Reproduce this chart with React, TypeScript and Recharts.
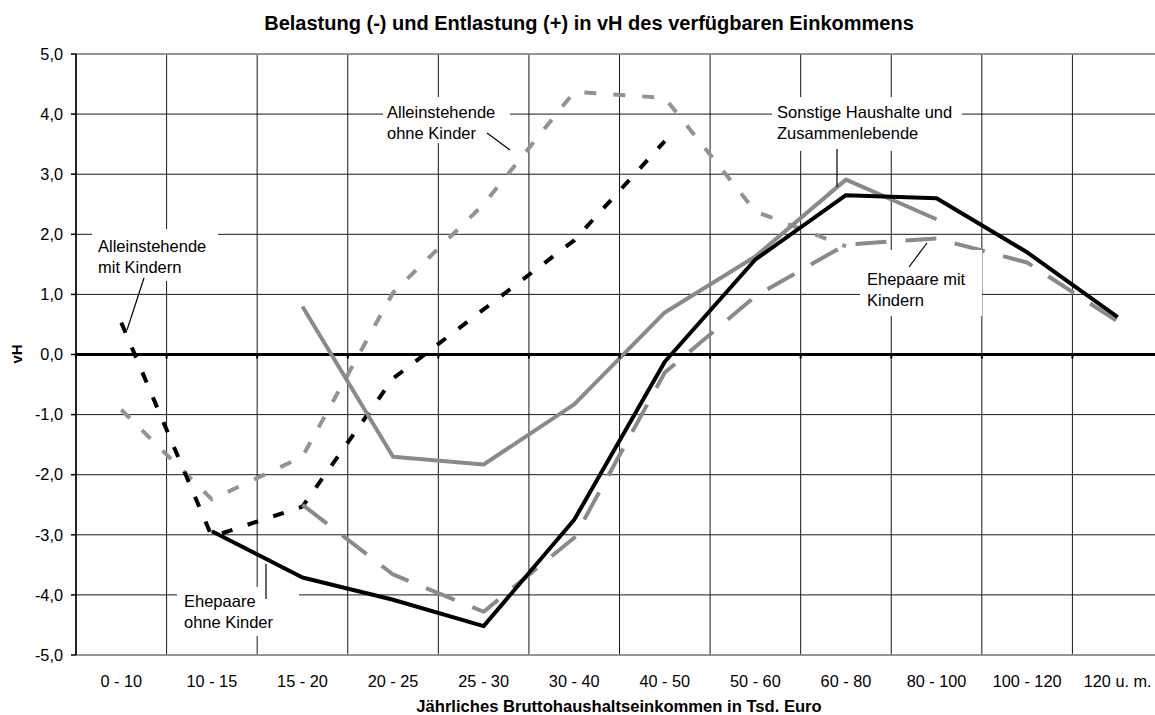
import React from 'react';
import { LineChart, Line, XAxis, YAxis, CartesianGrid, ReferenceLine } from 'recharts';

const categories = ['0 - 10', '10 - 15', '15 - 20', '20 - 25', '25 - 30', '30 - 40', '40 - 50', '50 - 60', '60 - 80', '80 - 100', '100 - 120', '120 u. m.'];
const alleinMitKindern = [0.53, -3.03, -2.53, -0.4, 0.75, 1.9, 3.55, null, null, null, null, null];
const alleinOhneKinder = [-0.92, -2.41, -1.7, 1.03, 2.5, 4.37, 4.27, 2.38, 1.8, null, null, null];
const sonstige = [null, null, 0.8, -1.7, -1.83, -0.83, 0.7, 1.63, 2.91, 2.25, null, null];
const ehepaareOhne = [null, -2.94, -3.71, -4.08, -4.52, -2.75, -0.12, 1.58, 2.65, 2.6, 1.7, 0.62];
const ehepaareMit = [null, null, -2.5, -3.66, -4.28, -3.05, -0.3, 0.97, 1.83, 1.93, 1.53, 0.55];
const yTicks = [-5, -4, -3, -2, -1, 0, 1, 2, 3, 4, 5];

const title = 'Belastung (-) und Entlastung (+) in vH des verfügbaren Einkommens';
const xTitle = 'Jährliches Bruttohaushaltseinkommen in Tsd. Euro';
const yTitle = 'vH';

const data = categories.map((cat, i) => ({
  cat,
  alleinMitKindern: alleinMitKindern[i],
  alleinOhneKinder: alleinOhneKinder[i],
  sonstige: sonstige[i],
  ehepaareOhne: ehepaareOhne[i],
  ehepaareMit: ehepaareMit[i],
}));

const W = 1170;
const H = 715;
const M = { top: 54, right: 7, left: 0, bottom: 0 };
const Y_W = 76;
const X_H = 60;
const PL = M.left + Y_W;
const PR = W - M.right;
const PT = M.top;
const PB = H - X_H;
const ZERO_Y = PT + (PB - PT) / 2;
const HALF_BAND = (PR - PL) / categories.length / 2;
const FONT = '"Liberation Sans", Arial, sans-serif';
const GRAY = '#8a8a8a';

const boundaries = categories.map((_, i) => PL + (i * (PR - PL)) / categories.length).concat([PR]);

type Note = { lines: string[]; x: number; y: number; box: [number, number, number, number]; leader: [number, number, number, number] };
const notes: Note[] = [
  { lines: ['Alleinstehende', 'mit Kindern'], x: 98, y: 252, box: [92, 229, 126, 52], leader: [144, 278, 127, 330] },
  { lines: ['Alleinstehende', 'ohne Kinder'], x: 387, y: 118, box: [383, 97, 127, 46], leader: [487, 133, 510, 150] },
  { lines: ['Sonstige Haushalte und', 'Zusammenlebende'], x: 777, y: 118, box: [772, 97, 190, 54], leader: [837, 149, 837, 187] },
  { lines: ['Ehepaare mit', 'Kindern'], x: 867, y: 285, box: [860, 250, 122, 66], leader: [909, 267, 927, 243] },
  { lines: ['Ehepaare', 'ohne Kinder'], x: 184, y: 607, box: [177, 587, 122, 49], leader: [266, 599, 266, 564] },
];

const fmt = (v: number) => v.toFixed(1).replace('.', ',');

export default function App() {
  return (
    <div style={{ position: 'fixed', left: 0, top: 0, width: 1155, height: 715, overflow: 'hidden', background: '#fff', fontFamily: FONT }}>
      <LineChart width={W} height={H} data={data} margin={M}>
        <CartesianGrid
          stroke="#1a1a1a"
          strokeWidth={1}
          verticalCoordinatesGenerator={(props: any) => {
            const off = props && props.offset;
            const left = off && typeof off.left === 'number' ? off.left : PL;
            const width = off && typeof off.width === 'number' ? off.width : PR - PL;
            return categories.map((_, i) => left + (i * width) / categories.length);
          }}
        />
        <ReferenceLine y={5} stroke="#9a9a9a" strokeWidth={1.5} />
        <ReferenceLine y={-5} stroke="#9a9a9a" strokeWidth={1.5} />
        <XAxis
          dataKey="cat"
          interval={0}
          tickLine={false}
          axisLine={false}
          height={X_H}
          tickMargin={14}
          padding={{ left: HALF_BAND, right: HALF_BAND }}
          tick={{ fill: '#000', fontSize: 16.3, fontFamily: FONT }}
        />
        <YAxis
          domain={[-5, 5]}
          ticks={yTicks}
          width={Y_W}
          tickFormatter={fmt}
          tickSize={5}
          tickMargin={8}
          axisLine={{ stroke: '#000', strokeWidth: 1.5 }}
          tickLine={{ stroke: '#000', strokeWidth: 1.5 }}
          tick={{ fill: '#000', fontSize: 16.3, fontFamily: FONT }}
          allowDataOverflow
        />
        <ReferenceLine y={0} stroke="#000" strokeWidth={3} />
        <Line dataKey="alleinOhneKinder" stroke="#939393" strokeWidth={4} strokeDasharray="12 17" dot={false} isAnimationActive={false} strokeLinejoin="round" />
        <Line dataKey="alleinMitKindern" stroke="#000" strokeWidth={4} strokeDasharray="11 16" dot={false} isAnimationActive={false} strokeLinejoin="round" />
        <Line dataKey="ehepaareMit" stroke={GRAY} strokeWidth={4} strokeDasharray="31 19" dot={false} isAnimationActive={false} strokeLinejoin="round" />
        <Line dataKey="sonstige" stroke={GRAY} strokeWidth={4} dot={false} isAnimationActive={false} strokeLinejoin="round" />
        <Line dataKey="ehepaareOhne" stroke="#000" strokeWidth={4} dot={false} isAnimationActive={false} strokeLinejoin="round" />
      </LineChart>
      <svg width={W} height={H} style={{ position: 'absolute', left: 0, top: 0, pointerEvents: 'none' }}>
        {boundaries.map((bx, i) => (
          <line key={'t' + i} x1={bx} x2={bx} y1={ZERO_Y} y2={ZERO_Y + 4} stroke="#000" strokeWidth={2} />
        ))}
        <text x={589} y={30} textAnchor="middle" fontFamily={FONT} fontWeight="bold" fontSize={20} fill="#000">{title}</text>
        <text x={619} y={712} textAnchor="middle" fontFamily={FONT} fontWeight="bold" fontSize={16.6} fill="#000">{xTitle}</text>
        <text x={22} y={354} textAnchor="middle" fontFamily={FONT} fontWeight="bold" fontSize={15} fill="#000" transform="rotate(-90 22 354)">{yTitle}</text>
        {notes.map((n, i) => (
          <g key={'n' + i}>
            <rect x={n.box[0]} y={n.box[1]} width={n.box[2]} height={n.box[3]} fill="#fff" />
            {n.lines.map((l, j) => (
              <text key={j} x={n.x} y={n.y + j * 21} fontFamily={FONT} fontSize={16.5} fill="#000">{l}</text>
            ))}
            <line x1={n.leader[0]} y1={n.leader[1]} x2={n.leader[2]} y2={n.leader[3]} stroke="#000" strokeWidth={1.2} />
          </g>
        ))}
      </svg>
    </div>
  );
}
